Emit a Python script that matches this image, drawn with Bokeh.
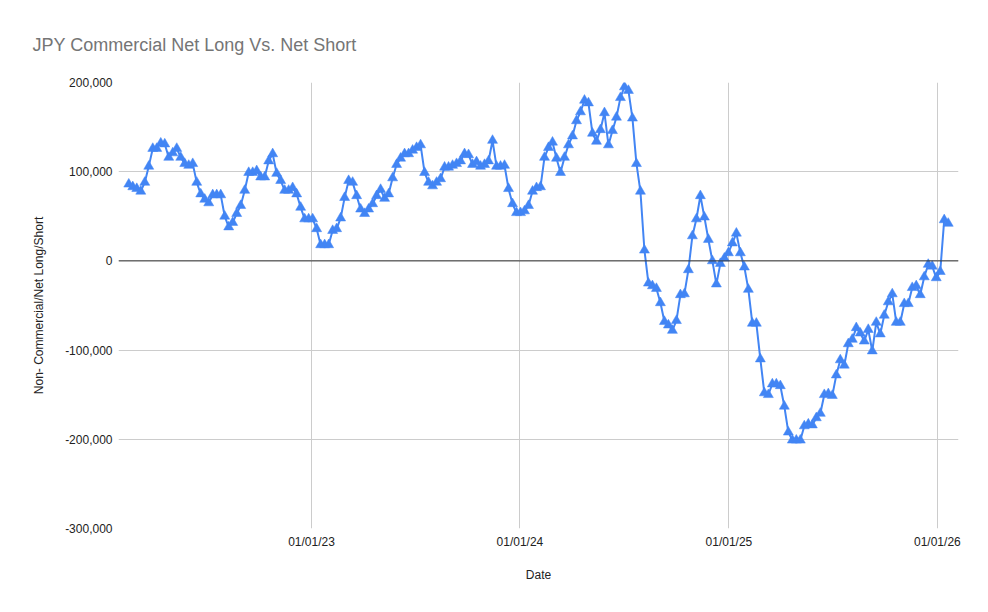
import pandas as pd
from bokeh.plotting import figure
from bokeh.models import (FixedTicker, NumeralTickFormatter, DatetimeTickFormatter,
                          Span, Range1d, ColumnDataSource)
from bokeh.embed import file_html
from bokeh.resources import INLINE

# ---------------- data ----------------
title_text = "JPY Commercial Net Long Vs. Net Short"
x_label = "Date"
y_label = "Non- Commercial/Net Long/Short"

start_date = "2022-02-15"   # first weekly report shown

net_position = [
    86000, 83000, 81000, 78000, 88000, 106000, 126000, 126000, 132000, 131000,
    116000, 121000, 126000, 116000, 109000, 107000, 109000, 88000, 75000, 69000,
    65000, 74000, 74000, 74000, 50000, 38000, 43000, 53000, 62000, 79000,
    99000, 99000, 101000, 94000, 94000, 112000, 120000, 98000, 90000, 79000,
    79000, 82000, 75000, 60000, 47000, 47000, 47000, 36000, 18000, 18000,
    18000, 34000, 36000, 48000, 71000, 90000, 88000, 73000, 58000, 53000,
    58000, 64000, 73000, 80000, 70000, 75000, 93000, 108000, 115000, 120000,
    120000, 124000, 127000, 130000, 99000, 88000, 84000, 88000, 92000, 105000,
    105000, 107000, 109000, 112000, 120000, 119000, 108000, 111000, 106000, 108000,
    112000, 135000, 106000, 106000, 107000, 81000, 64000, 54000, 54000, 56000,
    62000, 78000, 82000, 83000, 116000, 127000, 133000, 115000, 99000, 116000,
    130000, 140000, 157000, 167000, 180000, 177000, 143000, 134000, 147000, 166000,
    130000, 146000, 161000, 183000, 195000, 191000, 160000, 109000, 78000, 12000,
    -25000, -28000, -31000, -47000, -68000, -72000, -78000, -67000, -38000, -37000,
    -10000, 28000, 47000, 73000, 49000, 24000, 0, -26000, -3000, 3000,
    9000, 20000, 31000, 9000, -7000, -32000, -70000, -70000, -110000, -148000,
    -150000, -138000, -138000, -140000, -163000, -192000, -201000, -201000, -201000, -185000,
    -183000, -184000, -176000, -171000, -150000, -149000, -151000, -128000, -111000, -117000,
    -93000, -88000, -75000, -81000, -90000, -77000, -101000, -69000, -82000, -61000,
    -46000, -37000, -69000, -69000, -48000, -48000, -30000, -28000, -38000, -18000,
    -4000, -6000, -19000, -12000, 46000, 42000,
]

x_tick_dates = ["2023-01-01", "2024-01-01", "2025-01-01", "2026-01-01"]
x_tick_labels = ["01/01/23", "01/01/24", "01/01/25", "01/01/26"]
y_ticks = [-300000, -200000, -100000, 0, 100000, 200000]
x_view = ["2022-01-28", "2026-02-07"]

dates = pd.date_range(start=start_date, periods=len(net_position), freq="7D")
source = ColumnDataSource(dict(date=dates, value=net_position))

# ---------------- figure ----------------
FONT = "Liberation Sans"
BLUE = "#4285f4"

p = figure(width=988, height=612, x_axis_type="datetime",
           x_range=Range1d(pd.Timestamp(x_view[0]), pd.Timestamp(x_view[1])),
           y_range=Range1d(y_ticks[0], y_ticks[-1]),
           output_backend="svg", toolbar_location=None,
           min_border_left=118, min_border_right=30,
           min_border_top=82, min_border_bottom=84)
p.outline_line_color = None
p.background_fill_color = "white"
p.border_fill_color = "white"

p.title.text = title_text
p.title.align = "left"
p.title.offset = -86
p.title.standoff = 56
p.title.text_font = FONT
p.title.text_font_size = "18px"
p.title.text_font_style = "normal"
p.title.text_color = "#757575"

tick_ms = [pd.Timestamp(d).value // 10**6 for d in x_tick_dates]
p.xaxis.ticker = FixedTicker(ticks=tick_ms)
p.xaxis.formatter = DatetimeTickFormatter(days="%m/%d/%y", months="%m/%d/%y",
                                          years="%m/%d/%y")
p.xaxis.major_label_overrides = {t: lab for t, lab in zip(tick_ms, x_tick_labels)}
p.yaxis.ticker = FixedTicker(ticks=y_ticks)
p.yaxis.formatter = NumeralTickFormatter(format="0,0")

for ax in (p.xaxis, p.yaxis):
    ax.axis_line_color = None
    ax.major_tick_line_color = None
    ax.minor_tick_line_color = None
    ax.major_tick_out = 0
    ax.major_tick_in = 0
    ax.minor_tick_out = 0
    ax.major_label_text_font = FONT
    ax.major_label_text_font_size = "12px"
    ax.major_label_text_color = "#222222"
    ax.axis_label_text_font = FONT
    ax.axis_label_text_font_size = "12px"
    ax.axis_label_text_font_style = "normal"
    ax.axis_label_text_color = "#222222"

p.xaxis.axis_label = x_label
p.yaxis.axis_label = y_label
p.xaxis.major_label_standoff = 6
p.xaxis.axis_label_standoff = 16
p.yaxis.major_label_standoff = 6
p.yaxis.axis_label_standoff = 16

p.xgrid.grid_line_color = "#cccccc"
p.ygrid.grid_line_color = "#cccccc"

p.add_layout(Span(location=0, dimension="width", line_color="#333333", line_width=1))

p.line("date", "value", source=source, line_color=BLUE, line_width=2)
p.scatter("date", "value", source=source, marker="triangle", size=10,
          fill_color=BLUE, line_color=BLUE, line_width=0.5)

open("out.html", "w").write(file_html(p, INLINE))
